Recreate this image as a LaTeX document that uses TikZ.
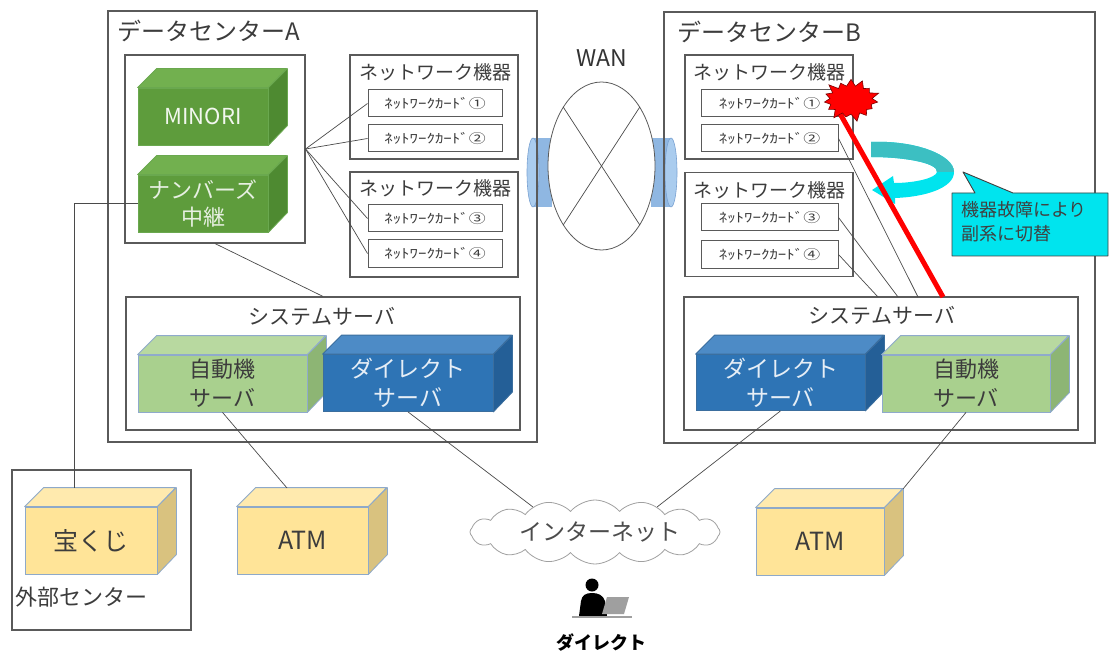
\documentclass[tikz,border=0pt]{standalone}
\usepackage{fontspec}
\setmainfont{Noto Sans CJK JP}
\usetikzlibrary{shapes.symbols,shapes.geometric}

\definecolor{frame}{HTML}{5A5A5A}
\definecolor{wire}{HTML}{4A4A4A}
\definecolor{ink}{HTML}{3C3C3C}
\definecolor{gfront}{HTML}{5E9C3C}
\definecolor{gtop}{HTML}{72B04F}
\definecolor{gside}{HTML}{4E8A31}
\definecolor{gedge}{HTML}{6AA84F}
\definecolor{lfront}{HTML}{A9D08E}
\definecolor{ltop}{HTML}{B8D9A0}
\definecolor{lside}{HTML}{8DB574}
\definecolor{ledge}{HTML}{8FAACC}
\definecolor{bfront}{HTML}{2E74B5}
\definecolor{btop}{HTML}{4D8BC6}
\definecolor{bside}{HTML}{245F97}
\definecolor{bedge}{HTML}{3B6E9E}
\definecolor{yfront}{HTML}{FFE498}
\definecolor{ytop}{HTML}{FFEAAE}
\definecolor{yside}{HTML}{D9C27F}
\definecolor{yedge}{HTML}{8EA9C9}
\definecolor{wanblue}{HTML}{8FB7E2}
\definecolor{wancap}{HTML}{AACCEE}
\definecolor{wanedge}{HTML}{7AA2D2}
\definecolor{cyanhi}{HTML}{00E4EE}
\definecolor{cyanlo}{HTML}{3CBFC2}
\definecolor{boomedge}{HTML}{7A0000}
\definecolor{cloudline}{HTML}{A0A0A0}

\newcommand\fsz[2]{\fontsize{#1}{#2}\selectfont}
% half-width card caption, stretched to the card
\newcommand\cardlabel[1]{\scalebox{1.3}[1]{\fsz{13}{13}ﾈｯﾄﾜｰｸｶｰﾄﾞ#1}}

% box drawn as a solid block: name, centre, width, height, colour prefix, text options, text
\newcommand\solid[7]{%
  \node[draw=#5edge, fill=#5front, line width=0.8pt, minimum width=#3, minimum height=#4,
        inner sep=0, align=center, #6] (#1) at #2 {#7};
  \filldraw[draw=#5edge, fill=#5top, line width=0.8pt, line join=round]
    (#1.north west) -- ++(19,-19) -- ++(#3,0) -- (#1.north east) -- cycle;
  \filldraw[draw=#5edge, fill=#5side, line width=0.8pt, line join=round]
    (#1.north east) -- ++(19,-19) -- ++(0,#4) -- (#1.south east) -- cycle;
}

\tikzset{
  panel/.style={draw=frame, line width=1.1pt, inner sep=0},
  card/.style={draw=frame, line width=1pt, fill=white, minimum width=#1, minimum height=27,
               inner sep=0, text=ink},
  card/.default=134,
  wire/.style={draw=wire, line width=0.7pt},
  lbl/.style={text=ink, inner sep=0},
}

\begin{document}
\begin{tikzpicture}[x=1pt,y=-1pt]
\useasboundingbox (0,0) rectangle (1110,652);
\fill[white] (0,0) rectangle (1110,652);

% ---- WAN link stubs
\fill[wanblue] (532,138) rectangle (552,207);
\filldraw[fill=wancap, draw=wanedge, line width=0.6pt] (533,172.5) ellipse [x radius=6, y radius=34.5];
\fill[wanblue] (651,138) rectangle (671,207);
\filldraw[fill=wancap, draw=wanedge, line width=0.6pt] (671,172.5) ellipse [x radius=6, y radius=34.5];

% ---- WAN cloud
\node[ellipse, draw=frame, line width=0.8pt, fill=white, minimum width=107, minimum height=168, inner sep=0] (wan) at (601.5,166) {};
\draw[wire] (wan.123) -- (wan.303);
\draw[wire] (wan.57) -- (wan.237);
\node[lbl, text=black!80, font=\fsz{23}{23}] (wanlbl) at (602,58) {WAN};

% ---- data centres
\node[panel, minimum width=429, minimum height=431] (dcA) at (322.5,226.5) {};
\node[panel, minimum width=431, minimum height=431] (dcB) at (879.5,227.5) {};
\node[lbl, anchor=west, font=\fsz{24}{24}] (dcAlbl) at (117,31) {データセンターA};
\node[lbl, anchor=west, font=\fsz{24}{24}] (dcBlbl) at (677,32) {データセンターB};

% ---- application block, centre A
\node[panel, minimum width=180, minimum height=188] (app) at (215,149) {};
\solid{minori}{(203,116.5)}{130}{57}{g}{text=white!92!gfront, font=\fsz{22}{22}}{MINORI}
\solid{numbers}{(203,203.5)}{130}{57}{g}{text=white!85!gfront, font=\fsz{22}{27}}{ナンバーズ\\中継}

% ---- network devices, centre A
\node[panel, minimum width=168, minimum height=104] (nwA1) at (434,107) {};
\node[lbl, font=\fsz{19}{19}] (nwA1lbl) at (435,72) {ネットワーク機器};
\node[card] (cA1) at (435,103.5) {\cardlabel{①}};
\node[card] (cA2) at (435,138.5) {\cardlabel{②}};
\node[panel, minimum width=168, minimum height=105] (nwA2) at (434,224.5) {};
\node[lbl, font=\fsz{19}{19}] (nwA2lbl) at (435,188) {ネットワーク機器};
\node[card] (cA3) at (435,218.5) {\cardlabel{③}};
\node[card] (cA4) at (435,253.5) {\cardlabel{④}};

\draw[wire] (app.east) -- (cA1.west);
\draw[wire] (app.east) -- (cA2.west);
\draw[wire] (app.east) -- (cA3.west);
\draw[wire] (app.east) -- (cA4.west);

% ---- system servers, centre A
\node[panel, minimum width=394, minimum height=133] (sysA) at (323,363.5) {};
\node[lbl, font=\fsz{21}{21}] (sysAlbl) at (322,316) {システムサーバ};
\solid{autoA}{(222.5,383.5)}{169}{57}{l}{text=ink, font=\fsz{22}{29}}{自動機\\サーバ}
\solid{dirA}{(408,383)}{170}{57}{b}{text=white!88!bfront, font=\fsz{23}{29}}{ダイレクト\\サーバ}
\draw[wire] (app.south) -- (sysA.north);

% ---- network devices, centre B
\node[panel, minimum width=168, minimum height=104] (nwB1) at (769,107) {};
\node[lbl, font=\fsz{19}{19}] (nwB1lbl) at (769,72) {ネットワーク機器};
\node[card=137] (cB1) at (769.5,103.5) {\cardlabel{①}};
\node[card=137] (cB2) at (769.5,138.5) {\cardlabel{②}};
\node[panel, minimum width=168, minimum height=104] (nwB2) at (769,224.5) {};
\node[lbl, font=\fsz{19}{19}] (nwB2lbl) at (769,190) {ネットワーク機器};
\node[card=137] (cB3) at (769.5,217.5) {\cardlabel{③}};
\node[card=137] (cB4) at (769.5,254.5) {\cardlabel{④}};

% ---- system servers, centre B
\node[panel, minimum width=394, minimum height=133] (sysB) at (881,363.5) {};
\node[lbl, font=\fsz{21}{21}] (sysBlbl) at (882,315) {システムサーバ};
\solid{dirB}{(780.5,382.5)}{169}{56}{b}{text=white!88!bfront, font=\fsz{23}{29}}{ダイレクト\\サーバ}
\solid{autoB}{(966,383.5)}{168}{57}{l}{text=ink, font=\fsz{22}{29}}{自動機\\サーバ}

\coordinate (inB2) at (918,297);
\coordinate (inB3) at (898,297);
\coordinate (inB4) at (878,297);
\coordinate (redTop) at (838,110);
\coordinate (redEnd) at (943,297);
\draw[wire] (cB2.east) -- (inB2);
\draw[wire] (cB3.east) -- (inB3);
\draw[wire] (cB4.east) -- (inB4);

% ---- switch-over arrow
\fill[cyanhi] (871,142) .. controls (915,140) and (954,155) .. (954,172)
  .. controls (954,188) and (925,197) .. (895,198) -- (895,204) -- (872,190) -- (893,176)
  -- (894,183) .. controls (915,183) and (936,178) .. (937,172)
  .. controls (938,163) and (905,157) .. (871,157) -- cycle;
\fill[cyanlo] (871,142) .. controls (915,140) and (954,155) .. (954,172)
  -- (937,172) .. controls (938,163) and (905,157) .. (871,157) -- cycle;

% ---- failed link
\draw[red, line width=5pt] (redTop) -- (redEnd);
\node[starburst, starburst points=15, starburst point height=9pt, fill=red, draw=boomedge,
      line width=0.6pt, inner xsep=15pt, inner ysep=10pt] (boom) at (851,100) {};

% ---- note
\filldraw[fill=cyanhi, draw=black!75, line width=0.9pt, line join=round]
  (952,193) -- (975,193) -- (963,172) -- (1013,193) -- (1108,193) -- (1108,256) -- (952,256) -- cycle;
\node[lbl, text=black!75, anchor=north west, align=left, font=\fsz{18}{24}] (note) at (961,201)
  {機器故障により\\副系に切替};

% ---- external centre and terminals
\node[panel, minimum width=179, minimum height=160] (ext) at (101.5,550) {};
\node[lbl, anchor=west, font=\fsz{22}{22}] (extlbl) at (15,597) {外部センター};
\solid{takara}{(91,540.5)}{132}{67}{y}{text=ink, font=\fsz{25}{25}}{宝くじ}
\solid{atmA}{(302.5,540.5)}{131}{67}{y}{text=ink, font=\fsz{25}{25}}{ATM}
\solid{atmB}{(820,541.5)}{128}{67}{y}{text=ink, font=\fsz{25}{25}}{ATM}

\coordinate (takaraTop) at (74,488);
\coordinate (atmAtop) at (287,488);
\coordinate (atmBtop) at (903,489);
\draw[wire] (numbers.west) -| (takaraTop);
\draw[wire] (autoA.south) -- (atmAtop);
\draw[wire] (autoB.south) -- (atmBtop);

% ---- internet
\node[cloud, cloud puffs=16, cloud puff arc=100, aspect=4, draw=cloudline, line width=0.8pt,
      fill=white, minimum width=250pt, minimum height=64pt, inner sep=0pt] (inet) at (595,532) {};
\node[lbl, text=black!70, font=\fsz{23}{23}] (inetlbl) at (600,532) {インターネット};
\draw[wire] (dirA.south) -- (inet.158);
\draw[wire] (dirB.south) -- (inet.22);

% ---- direct-banking user
\fill[black] (592,585) circle [radius=6.5];
\fill[black] (579,616) -- (581,601) .. controls (582,595) and (586,593) .. (592,593)
  .. controls (598,593) and (603,595) .. (605,601) -- (607,616) -- cycle;
\fill[gray!75] (607,597) -- (629,597) -- (624,614) -- (602,614) -- cycle;
\draw[gray!75, line width=2.2pt] (572,617) -- (632,617);
\node[lbl, text=black, font=\bfseries\fsz{18}{18}] (user) at (601,643) {ダイレクト};

\end{tikzpicture}
\end{document}
